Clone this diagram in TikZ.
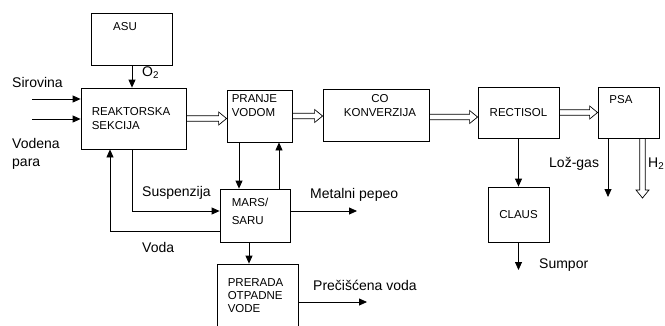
\documentclass[tikz,border=0pt]{standalone}
\usepackage{fontspec}
\setmainfont{Liberation Sans}
\usetikzlibrary{arrows.meta, positioning, calc}
\tikzset{
  box/.style={rectangle, draw, line width=0.8pt, inner sep=0pt,
    font=\fontsize{11.5}{13.5}\selectfont},
  boxtext/.style={inner sep=0pt, align=left,
    font=\fontsize{11.5}{13.5}\selectfont},
  lbl/.style={inner sep=0pt, align=left,
    font=\fontsize{14}{18}\selectfont},
  arr/.style={-{Triangle[length=8pt, width=7pt]}, line width=0.8pt},
  % hollow (gas) arrow drawn as an outline
  harr/.style={line width=0.7pt, line join=miter, to path={
    ($(\tikztotarget)!8pt!(\tikztostart)$) coordinate (hb)
    ($(\tikztostart)!2.7pt!90:(\tikztotarget)$)
      -- ($(hb)!2.7pt!90:(\tikztotarget)$)
      -- ($(hb)!6.5pt!90:(\tikztotarget)$)
      -- (\tikztotarget)
      -- ($(hb)!6.5pt!-90:(\tikztotarget)$)
      -- ($(hb)!2.7pt!-90:(\tikztotarget)$)
      -- ($(\tikztostart)!2.7pt!-90:(\tikztotarget)$)
  }},
}

\begin{document}
\begin{tikzpicture}[x=1pt, y=-1pt]
  \useasboundingbox (0,0) rectangle (665,325);
  \clip (0,0) rectangle (665,325);

  % Blocks
  \node[box, minimum width=81pt, minimum height=52pt] (asu) at (131.5,39) {};
  \node[box, minimum width=105pt, minimum height=61pt] (reak) at (133.5,118.5) {};
  \node[box, minimum width=65pt, minimum height=52pt] (pranje) at (259.5,116) {};
  \node[box, minimum width=106pt, minimum height=52pt] (co) at (376,115) {};
  \node[box, minimum width=81pt, minimum height=51pt] (rect) at (518.5,112.5) {RECTISOL};
  \node[box, minimum width=61pt, minimum height=51pt] (psa) at (628.5,112.5) {};
  \node[box, minimum width=61pt, minimum height=55pt] (claus) at (518.5,214.5) {CLAUS};
  \node[box, minimum width=70pt, minimum height=53pt] (mars) at (255,215.5) {};
  \node[box, minimum width=81pt, minimum height=76pt] (prerada) at (257.5,302) {};

  % Block texts
  \node[boxtext, below=10pt of asu.north, xshift=-6.5pt] {ASU};
  \node[boxtext, below right=20pt and 11pt of reak.north west] {REAKTORSKA\\SEKCIJA};
  \node[boxtext, below right=5pt and 5pt of pranje.north west] {PRANJE\\VODOM};
  \node[boxtext, align=center, below=6pt of co.north, xshift=4pt] {CO\\KONVERZIJA};
  \node[boxtext, below=9pt of psa.north, xshift=-7.5pt] {PSA};
  \node[boxtext, font=\fontsize{11.5}{18}\selectfont,
        below right=9pt and 12pt of mars.north west] {MARS/\\SARU};
  \node[boxtext, font=\fontsize{11.5}{13}\selectfont,
        below right=15pt and 11pt of prerada.north west] {PRERADA\\OTPADNE\\VODE};

  % Free ends
  \coordinate (sirin) at (32,99);
  \coordinate (vodin) at (32,119);
  \coordinate (lozgas) at (608,197);
  \coordinate (h2out) at (642.5,198);
  \coordinate (sumpor) at (518.5,270);
  \coordinate (pepeo) at (357,211);
  \coordinate (cista) at (367,302);

  % Main gas line
  \draw[harr] (reak.east) to (reak.east -| pranje.west);
  \draw[harr] (pranje.east) to (pranje.east -| co.west);
  \draw[harr] ([yshift=-2pt]co.east) to ([yshift=-2pt]co.east -| rect.west);
  \draw[harr] (rect.east) to (rect.east -| psa.west);
  \draw[harr] (h2out |- psa.south) to (h2out);

  % Other streams
  \draw[arr] (sirin) -- (sirin -| reak.west);
  \draw[arr] (vodin) -- (vodin -| reak.west);
  \draw[arr] ([xshift=0.5pt]asu.south) -- ([xshift=0.5pt]asu.south |- reak.north);
  \draw[arr] (lozgas |- psa.south) -- (lozgas);
  \draw[arr] (rect.south) -- (claus.north);
  \draw[arr] (claus.south) -- (sumpor);
  \draw[arr] ([xshift=-20.5pt]pranje.south) -- ([xshift=-20.5pt]pranje.south |- mars.north);
  \draw[arr] ([xshift=19.5pt]pranje.south |- mars.north) -- ([xshift=19.5pt]pranje.south);
  \draw[arr] ([xshift=-1.5pt]reak.south) |- ([yshift=4.5pt]mars.west);
  \draw[arr] ([yshift=-15.5pt]mars.west) -| ([xshift=-23.5pt]reak.south);
  \draw[arr] (pepeo -| mars.east) -- (pepeo);
  \draw[arr] ([xshift=-6pt]mars.south) -- ([xshift=-6pt]mars.south |- prerada.north);
  \draw[arr] (prerada.east) -- (cista);

  % Labels
  \node[lbl, anchor=base west] at (12,87) {Sirovina};
  \node[lbl, anchor=north west] at (12,138) {Vodena\\para};
  \node[lbl, anchor=base west] at (142,76) {O\textsubscript{2}};
  \node[lbl, anchor=base west] at (142,196) {Suspenzija};
  \node[lbl, anchor=base west] at (142,252) {Voda};
  \node[lbl, anchor=base west] at (310,198) {Metalni pepeo};
  \node[lbl, anchor=base west] at (313,290) {Prečišćena voda};
  \node[lbl, anchor=base west] at (549,167) {Lož-gas};
  \node[lbl, anchor=base west] at (648,167) {H\textsubscript{2}};
  \node[lbl, anchor=base west] at (539,268) {Sumpor};
\end{tikzpicture}
\end{document}
